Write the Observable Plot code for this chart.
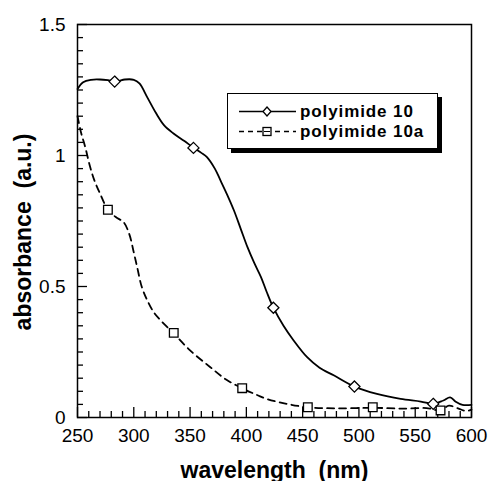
<!DOCTYPE html>
<html>
<head>
<meta charset="utf-8">
<script src="https://cdn.jsdelivr.net/npm/d3@7"></script>
<script src="https://cdn.jsdelivr.net/npm/@observablehq/plot@0.6"></script>
<style>
  html, body { margin: 0; padding: 0; background: #fff; }
  #wrap { position: relative; width: 489px; height: 481px; overflow: hidden; font-family: "Liberation Sans", Arial, sans-serif; }
  #legend { position: absolute; left: 227px; top: 93px; width: 209px; height: 54px; border: 1.5px solid #000; background: #fff; box-shadow: 4px 4px 0 #000; }
  .row { position: absolute; left: 0; height: 17px; display: flex; align-items: center; }
  .row span { font-weight: bold; font-size: 17px; letter-spacing: 0.9px; color: #000; margin-left: 4px; line-height: 16px; height: 16px; display: inline-block; }
</style>
</head>
<body>
<div id="wrap"></div>
<script>
// ---- data ----
const seriesNames = ["polyimide 10", "polyimide 10a"];

const wl10  = [250, 255, 262, 270, 278, 285, 292, 300, 305, 312, 320, 327, 335, 345, 353, 360, 365, 372, 377, 383, 389, 395, 401, 407, 413, 418, 424, 433, 442, 454, 465, 478, 496, 516, 537, 555, 566, 575, 581, 586, 592, 600];
const abs10 = [1.254, 1.28, 1.289, 1.29, 1.287, 1.283, 1.29, 1.289, 1.275, 1.222, 1.16, 1.115, 1.085, 1.055, 1.03, 1.01, 0.994, 0.95, 0.905, 0.85, 0.79, 0.72, 0.65, 0.59, 0.536, 0.48, 0.419, 0.35, 0.294, 0.23, 0.19, 0.16, 0.118, 0.09, 0.071, 0.061, 0.052, 0.065, 0.077, 0.06, 0.048, 0.048];
const mk10wl  = [283, 353, 424, 496, 566];
const mk10abs = [1.282, 1.029, 0.419, 0.118, 0.052];

const wl10a  = [250, 253, 257, 261, 265, 270, 277, 284, 291, 296, 300, 303, 307, 312, 318, 324, 335, 350, 368, 382, 396, 410, 418, 436, 455, 480, 512, 540, 560, 572, 580, 588, 595, 600];
const abs10a = [1.15, 1.09, 1.03, 0.96, 0.905, 0.855, 0.793, 0.765, 0.745, 0.70, 0.63, 0.574, 0.50, 0.447, 0.40, 0.37, 0.323, 0.256, 0.192, 0.145, 0.112, 0.085, 0.071, 0.052, 0.039, 0.035, 0.037, 0.034, 0.036, 0.027, 0.045, 0.035, 0.025, 0.03];
const mk10awl  = [277, 335.5, 396.3, 454.6, 512.3, 572.5];
const mk10aabs = [0.793, 0.323, 0.112, 0.039, 0.039, 0.027];

const xTickLabels = [250, 300, 350, 400, 450, 500, 550, 600];
const yTickLabels = [0, 0.5, 1, 1.5];
const xMinorTicks = d3.range(250, 601, 10);
const yMinorTicks = d3.range(0, 31).map(i => i * 0.05);

const xTitle = "wavelength\u00a0 (nm)";
const yTitle = "absorbance\u00a0 (a.u.)";

// ---- build ----
const line10 = wl10.map((w, i) => ({w, a: abs10[i]}));
const line10a = wl10a.map((w, i) => ({w, a: abs10a[i]}));
const pts10 = mk10wl.map((w, i) => ({w, a: mk10abs[i]}));
const pts10a = mk10awl.map((w, i) => ({w, a: mk10aabs[i]}));

const W = 489, H = 481;
const mL = 77, mR = 18, mT = 24, mB = 64;
const innerW = W - mL - mR, innerH = H - mT - mB;
const xMajorSet = new Set(xTickLabels);
const yMajorSet = new Set(yTickLabels.map(v => v.toFixed(2)));

const chart = Plot.plot({
  width: W, height: H,
  marginLeft: mL, marginRight: mR, marginTop: mT, marginBottom: mB,
  style: {fontFamily: "Liberation Sans, Arial, sans-serif", fontSize: "19px", color: "#000", background: "#fff"},
  x: {domain: [250, 600]},
  y: {domain: [0, 1.5]},
  marks: [
    // minor/major inward ticks
    Plot.tickX(xMinorTicks.filter(v => !xMajorSet.has(v)), {x: d => d, stroke: "#000", strokeWidth: 1.3, insetTop: innerH - 6}),
    Plot.tickX(xTickLabels, {x: d => d, stroke: "#000", strokeWidth: 1.3, insetTop: innerH - 10}),
    Plot.tickY(yMinorTicks.filter(v => !yMajorSet.has(v.toFixed(2))), {y: d => d, stroke: "#000", strokeWidth: 1.3, insetRight: innerW - 6}),
    Plot.tickY(yTickLabels, {y: d => d, stroke: "#000", strokeWidth: 1.3, insetRight: innerW - 10}),
    Plot.axisX({ticks: xTickLabels, tickSize: 0, tickPadding: 11, label: null, letterSpacing: "1px", fontSize: 19}),
    Plot.axisY({ticks: yTickLabels, tickSize: 0, tickPadding: 12, label: null, fontSize: 19, tickFormat: d => String(d)}),
    // curves
    Plot.line(line10, {x: "w", y: "a", stroke: "#000", strokeWidth: 1.8, curve: "catmull-rom"}),
    Plot.line(line10a, {x: "w", y: "a", stroke: "#000", strokeWidth: 1.8, strokeDasharray: "7,5", curve: "catmull-rom"}),
    Plot.dot(pts10, {x: "w", y: "a", symbol: "diamond2", r: 5, stroke: "#000", strokeWidth: 1.3, fill: "#fff"}),
    Plot.dot(pts10a, {x: "w", y: "a", symbol: "square2", r: 5.5, stroke: "#000", strokeWidth: 1.3, fill: "#fff"}),
    Plot.frame({stroke: "#000", strokeWidth: 1.5}),
    // axis titles
    Plot.text([xTitle], {frameAnchor: "bottom", text: d => d, dy: 60, fontWeight: "bold", fontSize: 23, fill: "#000"}),
    Plot.text([yTitle], {frameAnchor: "left", textAnchor: "middle", text: d => d, rotate: -90, dx: -54, dy: 11, fontWeight: "bold", fontSize: 23, fill: "#000"})
  ]
});

const wrap = document.getElementById("wrap");
wrap.appendChild(chart);

// legend
const legend = document.createElement("div");
legend.id = "legend";
function rowHTML(name, dashed, sym, top) {
  const dash = dashed ? 'stroke-dasharray="5,4"' : '';
  const symbol = sym === "diamond"
    ? '<path d="M28,4 L32,8.5 L28,13 L24,8.5 Z" fill="#fff" stroke="#000" stroke-width="1.3"/>'
    : '<rect x="24" y="4.5" width="8" height="8" fill="#fff" stroke="#000" stroke-width="1.3"/><line x1="25" y1="8.5" x2="31" y2="8.5" stroke="#000" stroke-width="1"/>';
  return `<div class="row" style="top:${top}px; left:11px">
    <svg width="57" height="17"><line x1="0" y1="8.5" x2="57" y2="8.5" stroke="#000" stroke-width="1.6" ${dash}/>${symbol}</svg>
    <span>${name}</span></div>`;
}
legend.innerHTML = rowHTML(seriesNames[0], false, "diamond", 9) + rowHTML(seriesNames[1], true, "square", 29);
wrap.appendChild(legend);
</script>
</body>
</html>
